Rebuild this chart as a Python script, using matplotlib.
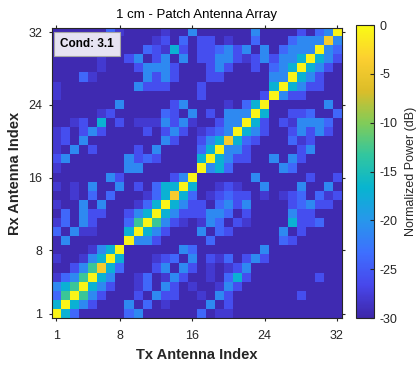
import numpy as np
import matplotlib.pyplot as plt
from matplotlib.colors import LinearSegmentedColormap

plt.rcParams['font.family'] = ['Liberation Sans', 'DejaVu Sans']
plt.rcParams['axes.unicode_minus'] = False

# power levels (dB), one code letter per cell
LEVELS = {'.': -29.5, ',': -28.0, 'm': -26.0, 'M': -24.0, 'L': -21.0,
          'C': -17.0, 'T': -13.0, 'O': -4.0, 'Y': -0.5}

# rows Rx = 1 .. 32, columns Tx = 1 .. 32
rows = [
    "YCM....." "ML......" "M.,,...." "........",
    "CYCLm..." "L.M.,..." ".L.m...." "........",
    "MTYTLm.." ".m.Lmm.." ",.Lm...." "...m....",
    "LCTYCLm." ".,M.Lm.," "..,Lm..." "........",
    ",MLTYCL." ".,M.,Lm." ".,.MCm.." ".....m..",
    "..mLTOCM" "...mL.Lm" ".,.,mL.." "........",
    ",..,LCYC" "...,mM.L" ".m,M.mLm" "........",
    "....,LCY" "......LM" ".......L" "........",
    ".L......" "YLLm...." ".M......" ".Mm.....",
    "M.L,,..." "CYCLm..." "L.Mm...." ".L.m....",
    ",M.Lm..." "MTYTLm,." ",LM.m,.." "..CmmM..",
    ".M.Lmm.." "mLCYCLmm" "mLLM.m.." "..Lmm...",
    ",..L.L.." ".,MCYCLm" "m.MLmL.." "..mMLmm.",
    "..,.M.M." "..,MCOCM" ".,mMmm.," ".,mM.M,m",
    ",.,.L..L" ".m.MCCYC" "..,m,..L" "...L..L.",
    "......Lm" ".....mLY" "......L." "....m..m",
    ",......." "LL......" "YLCM...." ".LM.....",
    "mL......" "LmMm...." "CYCLmm.." "L.Lm....",
    ",.L.m..." ".m.L...." "MCYLLm.." "...mL...",
    ",m.L...." "....Lm.." "mLCOCMm." "..M,m...",
    ",m.mLm.." "..m.mLm." ",mMLYCLm" "..mLmLm.",
    "..,m.C.m" ".,,,LmL," "..mLLYCm" ".m,LLLM.",
    ".....,m." "....Mm.L" ".m.LLLYC" "..mmM..M",
    ".......L" ".....mL." "...,.MCY" "......L.",
    ",......." "........" "m......m" "YLmm....",
    ",......." ".Lmmm..." "m......." "CYCLmm..",
    "...M,..." "..LmLm.." ".mm....." "LLYCLm..",
    ".....,.." ".mLLLm.." ".mLm..m." "MLCYCLm.",
    ".....,.." "mL.mL.L." "mmLLm,mL" "mLLCYCLm",
    "........" "..Mm,Cm." "mmMLmL.L" ".MLLLYLM",
    "........" "...,m.M." "mm.,..M." "..MLLLOL",
    "......M," "....,..L" "......L." "...m.MLY",
]
ticks = [1, 8, 16, 24, 32]
cbar_ticks = [0, -5, -10, -15, -20, -25, -30]
cond_text = 'Cond: 3.1'

power_db = np.array([[LEVELS[ch] for ch in r] for r in rows])

parula = LinearSegmentedColormap.from_list('parula', [
    (0.2422, 0.1504, 0.6603), (0.2803, 0.2782, 0.9221),
    (0.2440, 0.4358, 0.9988), (0.1540, 0.5902, 0.9218),
    (0.0297, 0.7082, 0.8163), (0.1938, 0.7758, 0.6251),
    (0.5044, 0.7993, 0.3480), (0.8634, 0.7406, 0.1596),
    (0.9892, 0.8136, 0.1885), (0.9769, 0.9839, 0.0805)])

dark = '#262626'
fig = plt.figure(figsize=(4.17, 3.69), dpi=100)
ax = fig.add_axes([0.124, 0.1374, 0.695, 0.7875])
cax = fig.add_axes([0.853, 0.138, 0.0446, 0.794])

im = ax.imshow(power_db, cmap=parula, vmin=-30, vmax=0, origin='lower',
               extent=[0.5, 32.5, 0.5, 32.5], aspect='auto',
               interpolation='nearest')
ax.set_xticks(ticks)
ax.set_yticks(ticks)
ax.tick_params(direction='out', top=True, right=True, length=2.5,
               width=0.8, labelsize=9, colors=dark)
ax.tick_params(axis='x', pad=6)
ax.tick_params(axis='y', pad=4.5)
for s in ax.spines.values():
    s.set_color(dark)
    s.set_linewidth(0.8)

ax.set_title('1 cm - Patch Antenna Array', fontsize=9.5, color='k', pad=7)
ax.set_xlabel('Tx Antenna Index', fontsize=10.5, fontweight='bold', color=dark)
ax.set_ylabel('Rx Antenna Index', fontsize=10.5, fontweight='bold', color=dark)

ax.text(0.03, 0.945, cond_text, transform=ax.transAxes, fontsize=8.5,
        fontweight='bold', va='center', ha='left',
        bbox=dict(boxstyle='square,pad=0.5', fc=(0.9, 0.89, 0.95),
                  ec='0.65', lw=0.8))

cb = fig.colorbar(im, cax=cax, ticks=cbar_ticks)
cb.ax.tick_params(direction='in', length=3, width=0.8, labelsize=9,
                  colors=dark, pad=4)
cb.outline.set_edgecolor(dark)
cb.outline.set_linewidth(0.8)
cb.set_label('Normalized Power (dB)', fontsize=9, color=dark, labelpad=5)

fig.savefig('out.png', dpi=100)
